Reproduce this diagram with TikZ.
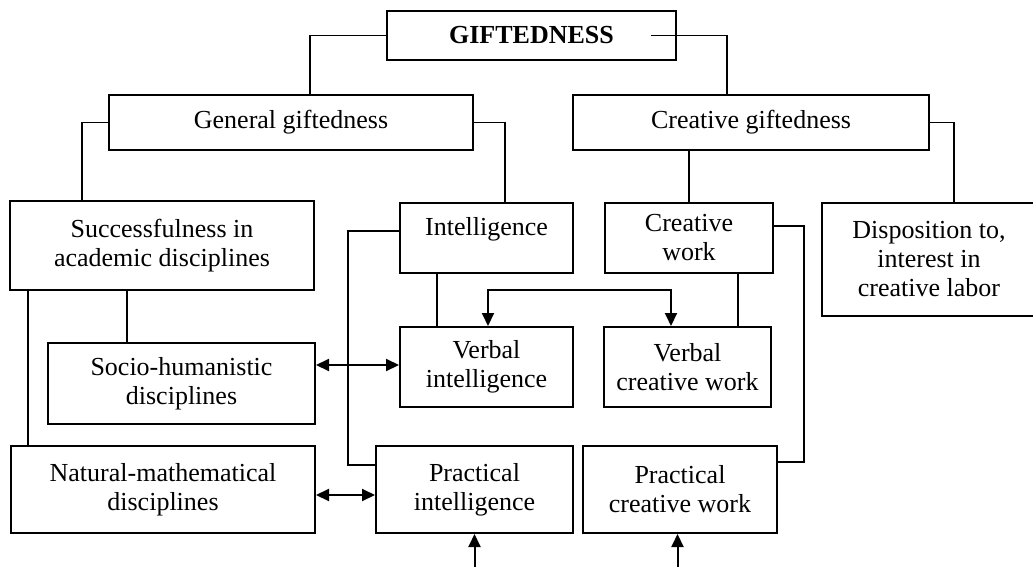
\documentclass[tikz,border=0pt]{standalone}
\usepackage{fontspec}
\setmainfont{Liberation Serif}
\usetikzlibrary{arrows.meta}
\begin{document}
\begin{tikzpicture}[x=0.5pt,y=-0.5pt,
  box/.style={draw,line width=1pt,align=center,inner sep=0pt,font=\fontsize{13}{14.5}\selectfont},
  link/.style={line width=0.7pt},
  arr/.style={line width=1pt,-{Triangle[length=6.5pt,width=6pt]}},
  darr/.style={line width=1pt,{Triangle[length=6.5pt,width=6pt]}-{Triangle[length=6.5pt,width=6pt]}}]
\useasboundingbox (0,0) rectangle (1033,567);
\node (gift) [box,minimum width=144.5pt,minimum height=24.5pt] at (531.5,35.5) {\textbf{GIFTEDNESS}};
\node (general) [box,minimum width=182pt,minimum height=27.5pt] at (291,122.5) {General giftedness};
\node (creative) [box,minimum width=178pt,minimum height=27.5pt] at (751,122.5) {Creative giftedness};
\node (succ) [box,minimum width=152pt,minimum height=44.5pt] at (162,245.5) {Successfulness in\\academic disciplines};
\node (intel) [box,minimum width=86.5pt,minimum height=35pt,text depth=12pt] at (486.5,238) {Intelligence};
\node (crwork) [box,minimum width=84pt,minimum height=35pt] at (689,238) {Creative\\work};
\node (disp) [box,minimum width=107pt,minimum height=56.5pt] at (929,259.5) {Disposition to,\\interest in\\creative labor};
\node (vint) [box,minimum width=86.5pt,minimum height=40pt] at (486.5,367) {Verbal\\intelligence};
\node (vcw) [box,minimum width=83.5pt,minimum height=40pt] at (687.5,367) {Verbal\\creative work};
\node (socio) [box,minimum width=133.5pt,minimum height=40.5pt] at (181.5,383.5) {Socio-humanistic\\disciplines};
\node (natmath) [box,minimum width=152pt,minimum height=43.5pt] at (163,489.5) {Natural-mathematical\\disciplines};
\node (pint) [box,minimum width=98.5pt,minimum height=43.5pt] at (474.5,489.5) {Practical\\intelligence};
\node (pcw) [box,minimum width=97pt,minimum height=43.5pt] at (680,489.5) {Practical\\creative work};
\coordinate (s1) at ([xshift=-67pt]succ.south);
\coordinate (s2) at ([xshift=-27.25pt]socio.north);
\coordinate (c1) at ([xshift=24.5pt]crwork.south);
\coordinate (a1) at ([yshift=9.25pt]socio.east);
\coordinate (a2) at ([yshift=-2.75pt]natmath.east);
\coordinate (in1) at ([yshift=-18pt]pint.south);
\coordinate (in2) at ([xshift=-1.25pt,yshift=-18pt]pcw.south);
\draw[link] (gift.west) -| ([xshift=9.5pt]general.north);
\draw[link] ([xshift=-13pt]gift.east) -| ([xshift=-12pt]creative.north);
\draw[link] (general.west) -| ([xshift=-40pt]succ.north);
\draw[link] (general.east) -| ([xshift=9.25pt]intel.north);
\draw[link] (crwork.north) -- (crwork.north |- creative.south);
\draw[link] (creative.east) -| ([xshift=12.5pt]disp.north);
\draw[link] (s1) -- (s1 |- natmath.north);
\draw[link] (s2) -- (s2 |- succ.south);
\draw[link] ([yshift=3.5pt]intel.west) -- ++(-25.5pt,0) |- ([yshift=12.25pt]pint.west);
\draw[link] ([xshift=-24.75pt]intel.south) -- ([xshift=-24.75pt]vint.north);
\draw[link] (c1) -- (c1 |- vcw.north);
\draw[link] ([yshift=6pt]crwork.east) -- ++(15pt,0) |- ([yshift=13.75pt]pcw.east);
\draw[darr] ([xshift=0.75pt]vint.north) -- ++(0,18pt) -| ([xshift=-8.25pt]vcw.north);
\draw[darr] (a1) -- (a1 -| vint.west);
\draw[darr] (a2) -- (a2 -| pint.west);
\draw[arr] (in1) -- (pint.south);
\draw[arr] (in2) -- (in2 |- pcw.south);
\end{tikzpicture}
\end{document}
